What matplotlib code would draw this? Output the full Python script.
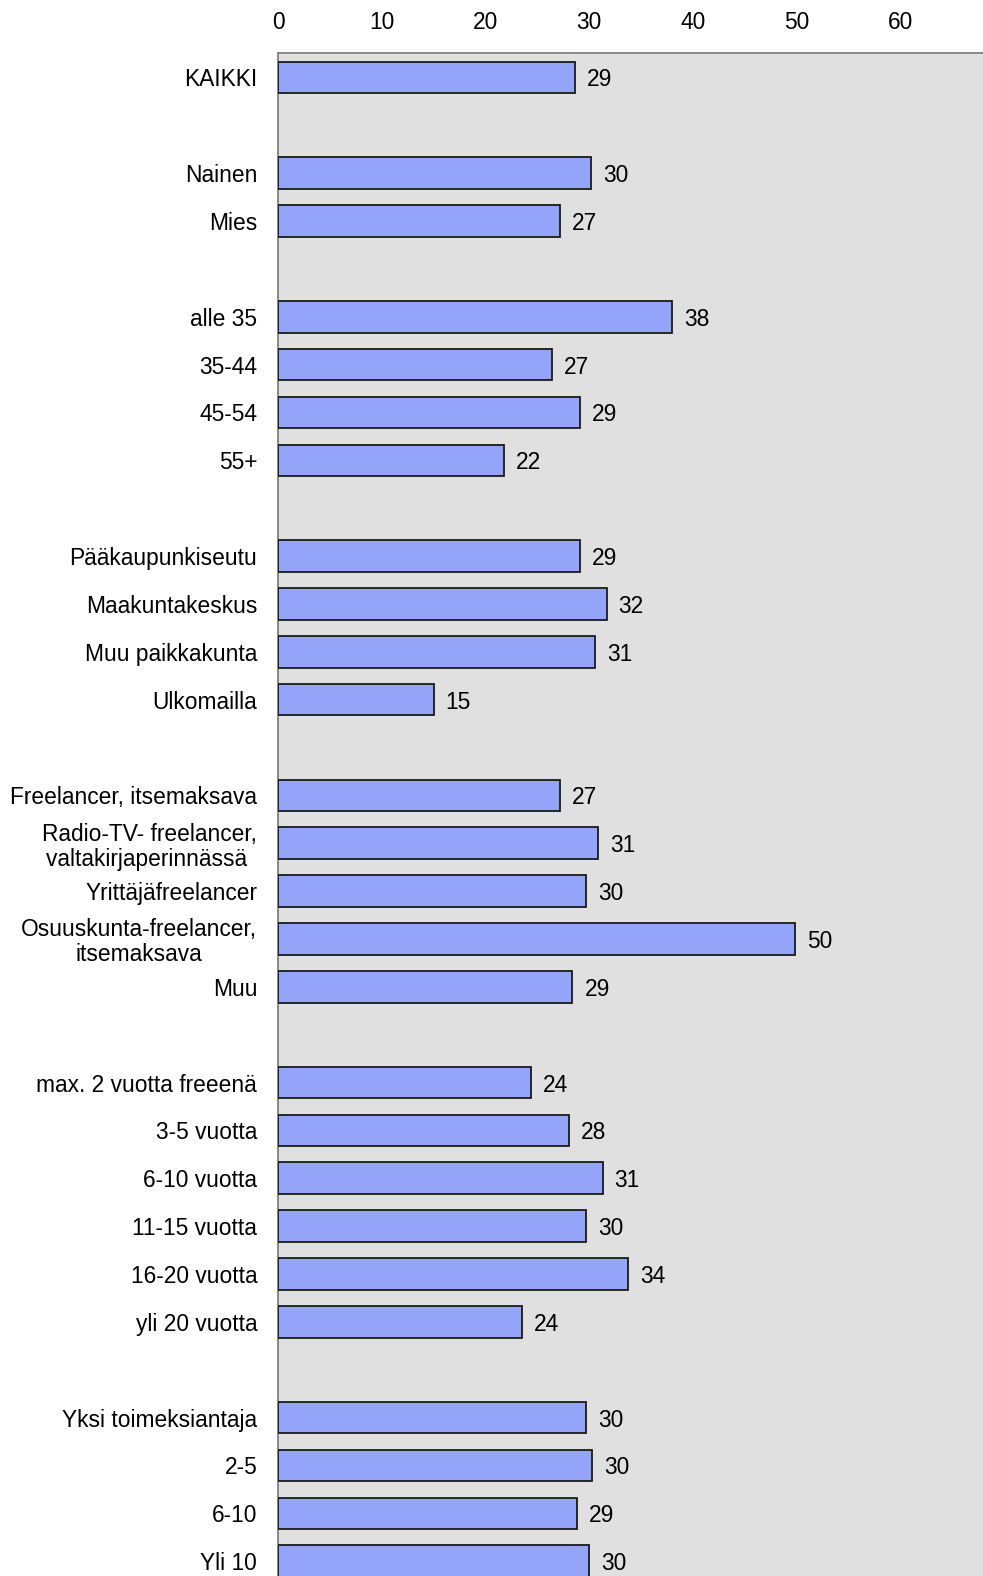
import matplotlib
matplotlib.use("Agg")
import matplotlib.pyplot as plt

plt.rcParams['font.family'] = ['Liberation Sans', 'DejaVu Sans']

categories = [
    "KAIKKI", "",
    "Nainen", "Mies", "",
    "alle 35", "35-44", "45-54", "55+", "",
    "Pääkaupunkiseutu", "Maakuntakeskus", "Muu paikkakunta", "Ulkomailla", "",
    "Freelancer, itsemaksava", "Radio-TV- freelancer,\nvaltakirjaperinnässä ",
    "Yrittäjäfreelancer", "Osuuskunta-freelancer,\nitsemaksava", "Muu", "",
    "max. 2 vuotta freeenä", "3-5 vuotta", "6-10 vuotta", "11-15 vuotta",
    "16-20 vuotta", "yli 20 vuotta", "",
    "Yksi toimeksiantaja", "2-5", "6-10", "Yli 10",
]
values = [
    28.6, None,
    30.2, 27.2, None,
    38.0, 26.4, 29.1, 21.8, None,
    29.1, 31.7, 30.6, 15.0, None,
    27.2, 30.9, 29.7, 49.9, 28.4, None,
    24.4, 28.1, 31.3, 29.7, 33.8, 23.5, None,
    29.7, 30.3, 28.8, 30.0,
]
value_labels = [
    "29", "",
    "30", "27", "",
    "38", "27", "29", "22", "",
    "29", "32", "31", "15", "",
    "27", "31", "30", "50", "29", "",
    "24", "28", "31", "30", "34", "24", "",
    "30", "30", "29", "30",
]
xticks = [0, 10, 20, 30, 40, 50, 60]

FS = 16.4
W, H = 983, 1576
fig = plt.figure(figsize=(W / 100, H / 100), dpi=100)
left = 278 / W
top = 1 - 53 / H
ax = fig.add_axes([left, 0, 1 - left, top])
ax.set_facecolor('#e0e0e0')

ypos = list(range(len(categories)))
bx = [y for y, v in zip(ypos, values) if v is not None]
bv = [v for v in values if v is not None]
ax.barh(bx, bv, height=0.66, color='#94a4f8', edgecolor='#1a1a1a', linewidth=1.3, zorder=3)

for y, v, t in zip(ypos, values, value_labels):
    if v is None:
        continue
    ax.annotate(t, xy=(v, y), xytext=(12, 0), textcoords='offset pixels',
                ha='left', va='center_baseline', fontsize=FS, color='black')

ax.set_xlim(0, 68)
ax.set_ylim(31.31, -0.51)
ax.set_yticks(ypos)
ax.set_yticklabels(categories, fontsize=FS, multialignment='center', linespacing=1.1)
for lbl in ax.get_yticklabels():
    lbl.set_verticalalignment('center_baseline')
ax.tick_params(axis='y', length=0, pad=15)
ax.xaxis.tick_top()
ax.set_xticks(xticks)
ax.set_xticklabels([str(x) for x in xticks], fontsize=FS)
ax.tick_params(axis='x', length=0, pad=13.5)

for s in ['right', 'bottom']:
    ax.spines[s].set_visible(False)
ax.spines['left'].set_color('#808080')
ax.spines['top'].set_color('#808080')
ax.spines['left'].set_linewidth(1.3)
ax.spines['top'].set_linewidth(1.3)

fig.savefig('out.png', dpi=100)
